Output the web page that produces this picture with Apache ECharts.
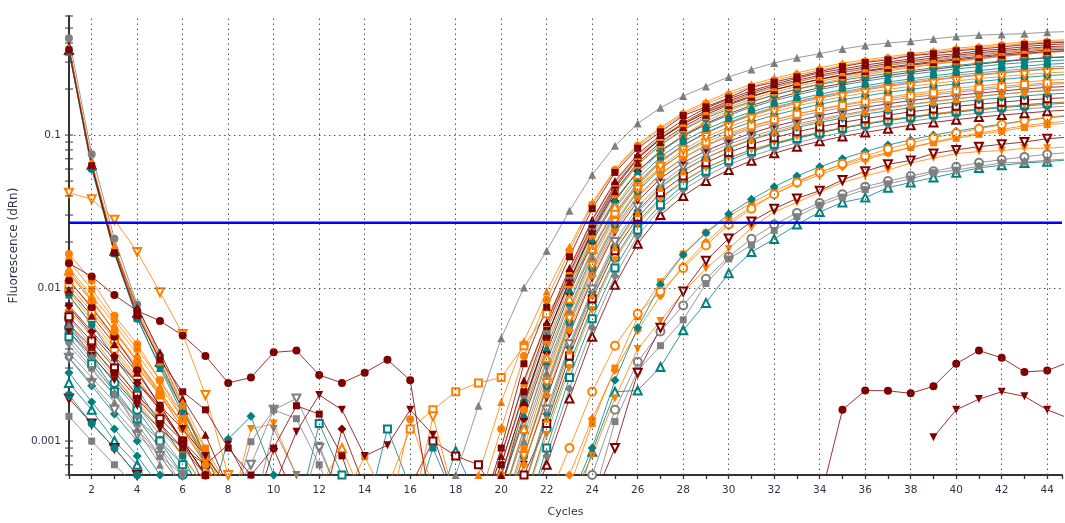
<!DOCTYPE html>
<html><head><meta charset="utf-8">
<script src="https://cdn.jsdelivr.net/npm/echarts@6/dist/echarts.min.js"></script>
<style>html,body{margin:0;padding:0;background:#fff}#c{width:1065px;height:523px}</style>
</head><body><div id="c"></div>
<script>
const cycles = [1,2,3,4,5,6,7,8,9,10,11,12,13,14,15,16,17,18,19,20,21,22,23,24,25,26,27,28,29,30,31,32,33,34,35,36,37,38,39,40,41,42,43,44,45];
const xTickLabels = [2,4,6,8,10,12,14,16,18,20,22,24,26,28,30,32,34,36,38,40,42,44];
const yMajorTicks = [0.001, 0.01, 0.1];
const yMinorTicks = [0.0006,0.0007,0.0008,0.0009,0.002,0.003,0.004,0.005,0.006,0.007,0.008,0.009,0.02,0.03,0.04,0.05,0.06,0.07,0.08,0.09,0.2,0.3,0.4,0.5,0.6];
const threshold = [0.0267];
const xRange = [1, 44.65];

// values per cycle 1..45 (0.0003 = below the visible floor of the plot)
const s01 = [0.0058,0.0036,0.0021,0.0012,0.0007,0.0003,0.0003,0.0003,
 0.0003,0.0003,0.0003,0.0003,0.0003,0.0003,0.0003,0.0003,0.0003,0.0006,
 0.0017,0.0047,0.0101,0.0175,0.032,0.055,0.085,0.119,0.151,0.18,0.208,0.24,0.268,0.296,0.32,0.34,0.365,0.385,0.40,0.41,0.425,0.44,0.45,0.455,0.46,0.47,0.475];
const s02 = [0.36,0.063,0.017,0.0066,0.0034,0.0021,0.0016,0.0009,
 0.0006,0.0009,0.0017,0.0015,0.0008,0.0003,0.0003,0.0003,0.0003,0.0003,
 0.0003,0.0009,0.0032,0.0075,0.016,0.033,0.057,0.082,0.105,0.134,0.153,0.175,0.205,0.222,0.24,0.26,0.28,0.298,0.31,0.33,0.34,0.355,0.365,0.376,0.39,0.40,0.405];
const s03 = [0.37,0.067,0.019,0.0072,0.0035,0.0018,0.0009,0.0004,
 0.0003,0.0003,0.0003,0.0003,0.0003,0.0003,0.0003,0.0003,0.0003,0.0003,
 0.0006,0.0018,0.0045,0.0095,0.0186,0.036,0.06,0.087,0.112,0.14,0.165,0.19,0.215,0.235,0.255,0.275,0.295,0.31,0.325,0.34,0.355,0.37,0.38,0.395,0.405,0.415,0.42];
const s04 = [0.38,0.065,0.018,0.0075,0.0038,0.0019,0.0011,0.0005,
 0.0003,0.0003,0.0003,0.0003,0.0003,0.0003,0.0003,0.0003,0.0003,0.0003,
 0.0003,0.0008,0.0025,0.006,0.0135,0.028,0.05,0.075,0.1,0.125,0.15,0.172,0.195,0.215,0.235,0.255,0.27,0.287,0.3,0.315,0.33,0.34,0.355,0.365,0.378,0.39,0.395];
const s05 = [0.43,0.075,0.021,0.0078,0.0036,0.0017,0.0008,0.0004,
 0.0003,0.0003,0.0003,0.0003,0.0003,0.0003,0.0003,0.0003,0.0003,0.0003,
 0.0003,0.0007,0.002,0.0052,0.012,0.025,0.046,0.07,0.094,0.118,0.142,0.163,0.185,0.205,0.222,0.24,0.256,0.27,0.285,0.298,0.31,0.322,0.335,0.345,0.357,0.367,0.372];
const s06 = [0.0167,0.0112,0.0066,0.0043,0.0025,0.0014,0.0008,0.0004,
 0.0003,0.0003,0.0003,0.0003,0.0003,0.0003,0.0003,0.00139,0.0005,0.0003,
 0.0003,0.0006,0.0016,0.0044,0.0105,0.022,0.041,0.064,0.087,0.11,0.132,0.152,0.172,0.19,0.208,0.224,0.24,0.254,0.267,0.28,0.292,0.304,0.315,0.326,0.337,0.347,0.352];
const s07 = [0.0112,0.0075,0.0048,0.0029,0.0017,0.001,0.0005,0.0003,
 0.0003,0.0003,0.0003,0.0003,0.0003,0.0003,0.0003,0.0003,0.0003,0.0003,
 0.0003,0.0005,0.0017,0.0048,0.0112,0.024,0.045,0.07,0.095,0.12,0.145,0.167,0.19,0.21,0.228,0.246,0.263,0.278,0.293,0.306,0.319,0.332,0.345,0.356,0.367,0.378,0.383];
const s08 = [0.35,0.062,0.017,0.0064,0.003,0.0015,0.0007,0.0003,
 0.0003,0.0003,0.0003,0.0003,0.0003,0.0003,0.0003,0.0003,0.0003,0.0003,
 0.0003,0.0005,0.0015,0.0041,0.0098,0.021,0.038,0.058,0.078,0.098,0.117,0.135,0.152,0.168,0.183,0.198,0.212,0.225,0.237,0.249,0.26,0.27,0.28,0.29,0.298,0.306,0.31];
const s09 = [0.013,0.0085,0.0052,0.0033,0.0021,0.0013,0.0008,0.0005,
 0.0003,0.0003,0.0003,0.0005,0.0009,0.0004,0.0003,0.0003,0.0003,0.0003,
 0.0003,0.0004,0.0012,0.0035,0.0085,0.018,0.034,0.055,0.078,0.1,0.123,0.144,0.164,0.183,0.2,0.217,0.233,0.248,0.262,0.276,0.289,0.302,0.315,0.327,0.338,0.348,0.355];
const s10 = [0.0077,0.0052,0.0036,0.0024,0.0016,0.001,0.0006,0.0004,
 0.0003,0.00089,0.0004,0.0003,0.0012,0.0005,0.0003,0.0003,0.0003,0.0003,
 0.0003,0.0005,0.0014,0.0038,0.0092,0.02,0.037,0.058,0.079,0.099,0.119,0.138,0.156,0.173,0.189,0.204,0.218,0.232,0.245,0.257,0.269,0.28,0.291,0.301,0.311,0.32,0.325];
const s11 = [0.009,0.0058,0.0035,0.0022,0.0013,0.0008,0.0004,0.0003,
 0.0003,0.0003,0.0003,0.0003,0.0003,0.0003,0.0003,0.0003,0.0009,0.0004,
 0.0003,0.0004,0.0012,0.0033,0.008,0.0175,0.033,0.052,0.072,0.091,0.109,0.126,0.142,0.157,0.171,0.185,0.198,0.21,0.222,0.233,0.244,0.254,0.264,0.273,0.282,0.29,0.295];
const s12 = [0.0042,0.0029,0.002,0.0014,0.0009,0.0006,0.0004,0.0003,
 0.0003,0.0012,0.0006,0.0003,0.0003,0.0003,0.0003,0.0003,0.0003,0.0003,
 0.0003,0.0004,0.0011,0.003,0.0074,0.0165,0.031,0.049,0.068,0.086,0.103,0.119,0.134,0.148,0.161,0.174,0.186,0.197,0.208,0.218,0.228,0.237,0.246,0.254,0.262,0.269,0.273];
const s13 = [0.015,0.0098,0.0062,0.004,0.0025,0.0015,0.0009,0.0005,
 0.0003,0.0003,0.0003,0.0003,0.0004,0.00079,0.0004,0.0003,0.0003,0.0003,
 0.0003,0.0003,0.0009,0.0026,0.0068,0.015,0.029,0.047,0.066,0.085,0.103,0.12,0.136,0.15,0.164,0.177,0.189,0.2,0.211,0.221,0.231,0.24,0.249,0.257,0.264,0.271,0.275];
const s14 = [0.002,0.0013,0.0009,0.0006,0.0004,0.0003,0.0003,0.0003,
 0.0003,0.0003,0.0003,0.0003,0.0003,0.0003,0.0003,0.0003,0.0003,0.0003,
 0.0003,0.0003,0.0008,0.0023,0.006,0.0135,0.026,0.043,0.06,0.077,0.093,0.108,0.122,0.135,0.147,0.159,0.17,0.18,0.19,0.199,0.208,0.216,0.224,0.231,0.238,0.245,0.249];
const s15 = [0.0112,0.0074,0.0047,0.0031,0.002,0.0012,0.0007,0.0004,
 0.0003,0.0003,0.0003,0.0003,0.0003,0.0003,0.0003,0.0003,0.0003,0.0003,
 0.0003,0.0003,0.0007,0.002,0.0053,0.012,0.024,0.039,0.055,0.071,0.086,0.1,0.113,0.125,0.137,0.148,0.158,0.168,0.177,0.186,0.194,0.202,0.209,0.216,0.222,0.228,0.232];
const s16 = [0.00145,0.001,0.0007,0.0005,0.0003,0.0003,0.0003,0.0003,
 0.00099,0.0016,0.0014,0.0007,0.0003,0.0003,0.0003,0.0003,0.0003,0.0003,
 0.0003,0.0003,0.0008,0.0022,0.0057,0.0127,0.025,0.04,0.056,0.071,0.085,0.098,0.11,0.121,0.132,0.142,0.151,0.16,0.168,0.176,0.183,0.19,0.197,0.203,0.209,0.214,0.218];
const s17 = [0.0052,0.0036,0.0025,0.0017,0.0012,0.0009,0.0007,0.00095,
 0.0005,0.0003,0.0003,0.0003,0.0003,0.0003,0.0003,0.0003,0.0003,0.0003,
 0.0003,0.0003,0.0007,0.0019,0.005,0.0115,0.023,0.037,0.052,0.066,0.079,0.091,0.103,0.114,0.124,0.134,0.143,0.152,0.16,0.168,0.175,0.182,0.188,0.194,0.2,0.205,0.208];
const s18 = [0.0035,0.0024,0.0016,0.0011,0.0008,0.0006,0.0005,0.0004,
 0.0007,0.0016,0.0019,0.0009,0.0004,0.0003,0.0003,0.0003,0.0003,0.0003,
 0.0003,0.0003,0.0005,0.0016,0.0043,0.0098,0.02,0.034,0.048,0.062,0.075,0.087,0.098,0.108,0.118,0.127,0.136,0.144,0.152,0.159,0.166,0.173,0.179,0.185,0.19,0.195,0.198];
const s19 = [0.0028,0.0018,0.0012,0.0008,0.0005,0.0004,0.0003,0.00103,
 0.00145,0.0006,0.0003,0.0003,0.0003,0.0003,0.0003,0.0003,0.0003,0.0003,
 0.0003,0.0003,0.0005,0.0015,0.0041,0.0094,0.019,0.032,0.046,0.059,0.071,0.082,0.093,0.103,0.112,0.121,0.129,0.137,0.144,0.151,0.158,0.164,0.17,0.175,0.18,0.185,0.188];
const s20 = [0.0065,0.0045,0.003,0.002,0.0014,0.001,0.0007,0.0004,
 0.0003,0.0003,0.0003,0.0003,0.0003,0.0003,0.0003,0.0005,0.001,0.0008,
 0.0007,0.0004,0.0006,0.0013,0.0036,0.0085,0.0175,0.029,0.042,0.054,0.066,0.077,0.087,0.096,0.105,0.113,0.121,0.128,0.135,0.142,0.148,0.154,0.159,0.164,0.169,0.173,0.176];
const s21 = [0.0058,0.0039,0.0026,0.0018,0.0012,0.0008,0.0005,0.0003,
 0.0012,0.0013,0.0006,0.0003,0.0003,0.0003,0.0003,0.0003,0.0003,0.0003,
 0.0003,0.0003,0.0004,0.0011,0.003,0.0072,0.0152,0.026,0.038,0.05,0.061,0.071,0.08,0.089,0.097,0.105,0.112,0.119,0.126,0.132,0.138,0.143,0.148,0.153,0.157,0.161,0.164];
const s22 = [0.0048,0.0032,0.0021,0.0014,0.001,0.0007,0.0005,0.0003,
 0.0003,0.0003,0.0003,0.0013,0.0006,0.0003,0.0012,0.0005,0.0003,0.0003,
 0.0003,0.0003,0.0003,0.0009,0.0026,0.0063,0.0135,0.024,0.035,0.047,0.058,0.068,0.078,0.087,0.095,0.103,0.111,0.118,0.125,0.131,0.137,0.143,0.148,0.153,0.158,0.162,0.165];
const s23 = [0.0052,0.0034,0.0022,0.0014,0.0009,0.0005,0.0003,0.0003,
 0.0003,0.0003,0.0003,0.0003,0.0003,0.0003,0.0003,0.0003,0.0003,0.0003,
 0.0003,0.0003,0.0003,0.0008,0.0022,0.0055,0.012,0.022,0.033,0.044,0.054,0.064,0.073,0.081,0.089,0.097,0.104,0.111,0.117,0.123,0.129,0.134,0.139,0.144,0.148,0.152,0.155];
const s24 = [0.36,0.064,0.0175,0.0069,0.0033,0.0016,0.0008,0.0004,
 0.0003,0.0003,0.0003,0.0003,0.0003,0.0003,0.0003,0.0003,0.0003,0.0003,
 0.0003,0.0003,0.0003,0.0007,0.0019,0.0048,0.0105,0.0195,0.03,0.04,0.05,0.059,0.068,0.076,0.084,0.091,0.098,0.104,0.11,0.116,0.121,0.126,0.131,0.135,0.139,0.143,0.146];
const s25 = [0.0095,0.0062,0.004,0.0026,0.0016,0.001,0.0006,0.0003,
 0.0003,0.0003,0.0003,0.0003,0.0003,0.0003,0.0003,0.0003,0.0003,0.0003,
 0.0003,0.0003,0.0003,0.0004,0.0009,0.0021,0.0042,0.0068,0.0095,0.0135,0.019,0.026,0.033,0.041,0.049,0.057,0.065,0.073,0.081,0.089,0.096,0.103,0.11,0.117,0.124,0.131,0.135];
const s26 = [0.0035,0.0023,0.0015,0.001,0.0006,0.0004,0.0003,0.0003,
 0.0003,0.0003,0.0003,0.0003,0.0003,0.0003,0.0003,0.0003,0.0003,0.0003,
 0.0003,0.0003,0.0003,0.0003,0.0004,0.0009,0.0025,0.0055,0.0105,0.0165,0.023,0.0305,0.038,0.046,0.054,0.062,0.07,0.078,0.086,0.093,0.1,0.106,0.112,0.118,0.124,0.13,0.133];
const s27 = [0.0125,0.0082,0.0053,0.0034,0.0021,0.0013,0.0007,0.0004,
 0.0003,0.0003,0.0003,0.0003,0.0003,0.0003,0.0003,0.0003,0.0003,0.0003,
 0.0003,0.0003,0.0003,0.0003,0.0005,0.0013,0.003,0.0065,0.011,0.0167,0.023,0.0295,0.036,0.043,0.05,0.057,0.064,0.071,0.077,0.083,0.089,0.095,0.101,0.106,0.112,0.117,0.12];
const s28 = [0.0072,0.0048,0.0031,0.002,0.0013,0.0008,0.0005,0.0003,
 0.0003,0.0003,0.0003,0.0003,0.0003,0.0003,0.0003,0.0003,0.0003,0.0003,
 0.0003,0.0003,0.0003,0.0003,0.0006,0.0014,0.0029,0.0053,0.0089,0.014,0.02,0.027,0.034,0.041,0.048,0.055,0.062,0.069,0.076,0.083,0.09,0.097,0.103,0.109,0.115,0.12,0.124];
const s29 = [0.0019,0.0013,0.0009,0.0006,0.0004,0.0003,0.0003,0.0003,
 0.0003,0.0003,0.0003,0.0003,0.0003,0.0003,0.0003,0.0003,0.0003,0.0003,
 0.0003,0.0003,0.0003,0.0003,0.0003,0.0004,0.0009,0.0028,0.0055,0.0095,0.0151,0.0211,0.0272,0.033,0.0385,0.0433,0.0509,0.058,0.0644,0.0683,0.0757,0.08,0.084,0.087,0.09,0.0947,0.097];
const s30 = [0.0088,0.0058,0.0038,0.0025,0.0016,0.001,0.0006,0.0003,
 0.0003,0.0003,0.0003,0.0003,0.0003,0.0003,0.0003,0.0003,0.0003,0.0003,
 0.0003,0.0003,0.0003,0.0003,0.0004,0.0008,0.0019,0.004,0.0061,0.0094,0.0134,0.018,0.0248,0.0314,0.0363,0.0423,0.049,0.054,0.059,0.0657,0.0707,0.0757,0.078,0.079,0.082,0.082,0.084];
const s31 = [0.0045,0.003,0.002,0.0013,0.0008,0.0005,0.0003,0.0003,
 0.0003,0.0003,0.0003,0.00094,0.0004,0.0003,0.0003,0.0003,0.0003,0.0003,
 0.0003,0.0003,0.0003,0.0003,0.0003,0.0004,0.00134,0.00288,0.0042,0.0062,0.0107,0.0155,0.0191,0.0238,0.0293,0.0348,0.0393,0.044,0.048,0.0517,0.0567,0.059,0.0625,0.0657,0.0667,0.0684,0.07];
const s32 = [0.0024,0.0016,0.001,0.0007,0.0004,0.0003,0.0003,0.0003,
 0.0003,0.0003,0.0003,0.0003,0.0003,0.0003,0.0003,0.0003,0.0003,0.00086,
 0.0004,0.0003,0.0003,0.0003,0.0003,0.00085,0.0021,0.00214,0.00305,0.0053,0.008,0.0125,0.0172,0.0209,0.026,0.0314,0.0363,0.039,0.0453,0.049,0.0527,0.0567,0.061,0.0635,0.0657,0.067,0.069];
const s33 = [0.0064,0.0042,0.0027,0.0017,0.0011,0.0007,0.0004,0.0003,
 0.0003,0.0003,0.0003,0.0003,0.0003,0.0003,0.0003,0.0003,0.0003,0.0003,
 0.0003,0.0003,0.0003,0.0003,0.0003,0.0006,0.0016,0.0033,0.0052,0.0077,0.0115,0.016,0.021,0.026,0.031,0.036,0.041,0.046,0.05,0.054,0.058,0.062,0.066,0.069,0.072,0.075,0.077];
const s34 = [0.042,0.038,0.028,0.0172,0.0094,0.005,0.002,0.0006,
 0.0003,0.0003,0.0003,0.0003,0.0003,0.0003,0.0003,0.0003,0.00145,0.0004,
 0.0003,0.0003,0.0008,0.0024,0.0063,0.014,0.027,0.044,0.062,0.08,0.097,0.113,0.128,0.142,0.155,0.167,0.178,0.189,0.199,0.208,0.217,0.226,0.234,0.241,0.248,0.255,0.259];
const s35 = [0.0145,0.0119,0.009,0.0071,0.0061,0.0049,0.0036,0.0024,
 0.0026,0.0038,0.0039,0.0027,0.0024,0.0028,0.0034,0.0025,0.0003,0.0003,
 0.0003,0.0003,0.0003,0.0003,0.0003,0.0003,0.0003,0.0003,0.0003,0.0003,0.0003,0.0003,0.0003,0.0003,0.0003,0.0004,0.0016,0.00214,0.00213,0.00205,0.00228,0.0032,0.0039,0.0035,0.00283,0.00289,0.0033];
const s36 = [0.0075,0.005,0.0034,0.0024,0.0017,0.0012,0.0008,0.0005,
 0.0003,0.0005,0.00115,0.002,0.0016,0.0008,0.00094,0.0016,0.0011,0.0004,
 null,null,null,null,null,null,null,null,null,null,null,null,null,null,null,null,null,null,null,null,0.00106,0.0016,0.00188,0.0021,0.00196,0.0016,0.0014];
const s37 = [0.0105,0.007,0.0046,0.003,0.002,0.0013,0.0008,0.0005,
 0.0003,0.0003,0.0003,0.0003,0.0003,0.0003,0.0005,0.0012,0.0016,0.0021,
 0.0024,0.0026,0.0042,0.0068,0.011,0.0185,0.031,0.046,0.061,0.076,0.09,0.103,0.115,0.126,0.137,0.147,0.156,0.165,0.173,0.181,0.188,0.195,0.202,0.208,0.214,0.219,0.222];
const s38 = [0.355,0.06,0.0168,0.0063,0.0031,0.0016,0.0008,0.0004,
 0.0003,0.0003,0.0003,0.0003,0.0003,0.0003,0.0003,0.0003,0.0003,0.0003,
 0.0003,0.0006,0.0018,0.0048,0.011,0.023,0.042,0.064,0.086,0.108,0.129,0.148,0.166,0.183,0.199,0.214,0.228,0.241,0.253,0.264,0.275,0.285,0.295,0.304,0.313,0.321,0.326];
const s39 = [0.0058,0.0041,0.0028,0.0019,0.0013,0.0009,0.0006,0.0004,
 0.0003,0.0003,0.0003,0.0003,0.0003,0.0003,0.0003,0.0003,0.0003,0.0003,
 0.0003,0.0007,0.0021,0.0056,0.0125,0.026,0.047,0.071,0.095,0.118,0.14,0.16,0.18,0.198,0.215,0.231,0.246,0.26,0.273,0.286,0.298,0.31,0.321,0.332,0.342,0.352,0.357];
const s40 = [0.0135,0.009,0.0058,0.0037,0.0023,0.0014,0.0008,0.0004,
 0.0003,0.0003,0.0003,0.0003,0.0003,0.0003,0.0003,0.0003,0.0003,0.0003,
 0.0003,0.0003,0.0005,0.0014,0.0039,0.009,0.0185,0.031,0.045,0.058,0.071,0.083,0.094,0.105,0.115,0.124,0.133,0.142,0.15,0.158,0.165,0.172,0.179,0.185,0.191,0.196,0.2];
const s41 = [0.0125,0.0083,0.0052,0.0033,0.002,0.0012,0.0007,0.0004,
 0.0003,0.0003,0.0003,0.0003,0.0003,0.0003,0.0003,0.0003,0.0003,0.0003,
 0.0004,0.0012,0.0036,0.0084,0.0175,0.035,0.059,0.085,0.109,0.137,0.16,0.183,0.208,0.228,0.247,0.266,0.285,0.302,0.317,0.333,0.347,0.361,0.372,0.385,0.396,0.406,0.412];
const s42 = [0.0098,0.0066,0.0043,0.0028,0.0017,0.001,0.0006,0.0003,
 0.0003,0.0003,0.0003,0.0003,0.0003,0.0003,0.0003,0.0003,0.0003,0.0003,
 0.0003,0.0006,0.0018,0.0048,0.011,0.0235,0.043,0.066,0.09,0.113,0.136,0.157,0.178,0.197,0.215,0.232,0.248,0.263,0.277,0.29,0.303,0.315,0.327,0.338,0.349,0.36,0.365];
const s43 = [0.0038,0.0026,0.0018,0.0012,0.0008,0.0005,0.0003,0.0003,
 0.0003,0.0003,0.0003,0.0003,0.0003,0.0003,0.0003,0.0003,0.0003,0.0003,
 0.0003,0.0003,0.001,0.0028,0.0071,0.016,0.03,0.048,0.067,0.086,0.104,0.121,0.137,0.152,0.166,0.179,0.192,0.204,0.215,0.226,0.236,0.246,0.255,0.263,0.271,0.278,0.282];
const s44 = [0.0055,0.0037,0.0024,0.0016,0.001,0.0006,0.0004,0.0003,
 0.0003,0.0003,0.0003,0.0003,0.0003,0.0003,0.0003,0.0003,0.0003,0.0003,
 0.0003,0.0003,0.0004,0.0012,0.0032,0.0076,0.0158,0.027,0.039,0.05,0.061,0.071,0.08,0.088,0.096,0.104,0.111,0.118,0.124,0.13,0.136,0.141,0.146,0.151,0.155,0.159,0.162];
const s45 = [0.365,0.065,0.018,0.007,0.0033,0.0017,0.0008,0.0004,
 0.0003,0.0003,0.0003,0.0003,0.0003,0.0003,0.0003,0.0003,0.0003,0.0003,
 0.0003,0.0008,0.0024,0.0059,0.013,0.0275,0.049,0.073,0.097,0.12,0.143,0.164,0.186,0.205,0.223,0.241,0.257,0.272,0.287,0.3,0.313,0.326,0.338,0.35,0.361,0.372,0.377];

const GRAY = '#808080', RED = '#800000', TEAL = '#008080', ORANGE = '#ff8000';
// [data, colour, marker, rotation]
const defs = [
  [s33, GRAY, 'emptyCircle', 0],
  [s32, TEAL, 'emptyTriangle', 0],
  [s31, GRAY, 'rect', 0],
  [s30, ORANGE, 'triangle', 180],
  [s29, RED, 'emptyTriangle', 180],
  [s28, ORANGE, 'diamond', 0],
  [s27, ORANGE, 'rect', 0],
  [s26, TEAL, 'diamond', 0],
  [s25, ORANGE, 'emptyCircle', 0],
  [s24, RED, 'emptyTriangle', 0],
  [s23, GRAY, 'diamond', 0],
  [s44, TEAL, 'emptyCircle', 0],
  [s22, TEAL, 'emptyRect', 0],
  [s21, ORANGE, 'triangle', 180],
  [s20, RED, 'emptyRect', 0],
  [s19, TEAL, 'diamond', 0],
  [s18, GRAY, 'emptyTriangle', 180],
  [s17, RED, 'triangle', 180],
  [s16, GRAY, 'rect', 0],
  [s15, ORANGE, 'diamond', 0],
  [s14, TEAL, 'circle', 0],
  [s13, ORANGE, 'rect', 0],
  [s43, GRAY, 'triangle', 0],
  [s12, GRAY, 'triangle', 180],
  [s11, TEAL, 'rect', 0],
  [s40, ORANGE, 'triangle', 0],
  [s37, ORANGE, 'emptyRect', 0],
  [s34, ORANGE, 'emptyTriangle', 180],
  [s10, RED, 'diamond', 0],
  [s09, ORANGE, 'emptyTriangle', 0],
  [s08, TEAL, 'triangle', 0],
  [s38, TEAL, 'circle', 0],
  [s07, RED, 'circle', 0],
  [s06, ORANGE, 'circle', 0],
  [s05, GRAY, 'circle', 0],
  [s42, RED, 'triangle', 0],
  [s39, RED, 'rect', 0],
  [s45, ORANGE, 'triangle', 0],
  [s04, RED, 'triangle', 0],
  [s41, ORANGE, 'circle', 0],
  [s03, ORANGE, 'triangle', 0],
  [s02, RED, 'rect', 0],
  [s01, GRAY, 'triangle', 0],
  [s36, RED, 'triangle', 180],
  [s35, RED, 'circle', 0]
];

const chart = echarts.init(document.getElementById('c'), null, {renderer: 'canvas'});
const textColor = '#2e3447';
const font = 'DejaVu Sans, sans-serif';

const curveSeries = defs.map(([vals, color, sym, rot]) => ({
  type: 'line',
  data: cycles.map((c, i) => [c, vals[i]]),
  symbol: sym,
  symbolRotate: rot,
  symbolSize: sym.indexOf('ect') >= 0 ? 7 : (sym.indexOf('iamond') >= 0 ? 9 : 8),
  showAllSymbol: true,
  connectNulls: false,
  clip: true,
  lineStyle: {width: 1, color: color, opacity: 0.8},
  itemStyle: {color: color, borderColor: color, borderWidth: sym.indexOf('empty') === 0 ? 1.3 : 0},
  emphasis: {disabled: true},
  silent: true,
  z: 3
}));

const tickSeries = {
  type: 'scatter',
  data: yMinorTicks.concat(yMajorTicks).map(v => [xRange[0], v]),
  symbol: 'rect',
  symbolSize: [8, 1.3],
  itemStyle: {color: '#3a3a3a'},
  clip: false,
  silent: true,
  z: 6,
  markLine: {
    silent: true,
    symbol: ['none', 'none'],
    label: {show: false},
    lineStyle: {color: '#555', type: [1.5, 3.5], width: 1},
    data: xTickLabels.map(v => ({xAxis: v})).concat(yMajorTicks.map(v => ({yAxis: v})))
  }
};

const thresholdSeries = {
  type: 'line',
  data: xRange.map(x => [x, threshold[0]]),
  symbol: 'none',
  lineStyle: {color: '#0000ff', width: 2.5},
  silent: true,
  z: 8
};

const isMajor = v => yMajorTicks.some(m => Math.abs(Math.log10(v) - Math.log10(m)) < 1e-6);

chart.setOption({
  animation: false,
  backgroundColor: '#ffffff',
  grid: {left: 63, right: 0, top: 16, bottom: 36, containLabel: false},
  xAxis: {
    type: 'value', min: xRange[0], max: xRange[1], interval: 1,
    name: 'Cycles', nameLocation: 'middle', nameGap: 32,
    nameTextStyle: {color: textColor, fontSize: 11, fontFamily: font},
    axisLine: {show: true, onZero: false, lineStyle: {color: '#333', width: 2}},
    axisTick: {show: true, length: 4, lineStyle: {color: '#333', width: 1.3}},
    axisLabel: {color: textColor, fontSize: 10.5, fontFamily: font, margin: 10,
      formatter: v => (xTickLabels.indexOf(Math.round(v)) >= 0 && Math.abs(v - Math.round(v)) < 1e-6) ? String(Math.round(v)) : ''},
    splitLine: {show: false}
  },
  yAxis: {
    type: 'log', logBase: 10, min: 0.0006, max: 0.6,
    name: 'Fluorescence (dRn)', nameLocation: 'middle', nameGap: 37,
    nameTextStyle: {color: textColor, fontSize: 12, fontFamily: font},
    axisLine: {show: true, lineStyle: {color: '#333', width: 2}},
    axisTick: {show: false},
    axisLabel: {color: textColor, fontSize: 10.5, fontFamily: font, margin: 8,
      showMinLabel: false, showMaxLabel: false,
      formatter: v => isMajor(v) ? String(Number(v.toPrecision(3))) : ''},
    splitLine: {show: false}
  },
  series: [tickSeries].concat(curveSeries).concat([thresholdSeries])
});
</script></body></html>
